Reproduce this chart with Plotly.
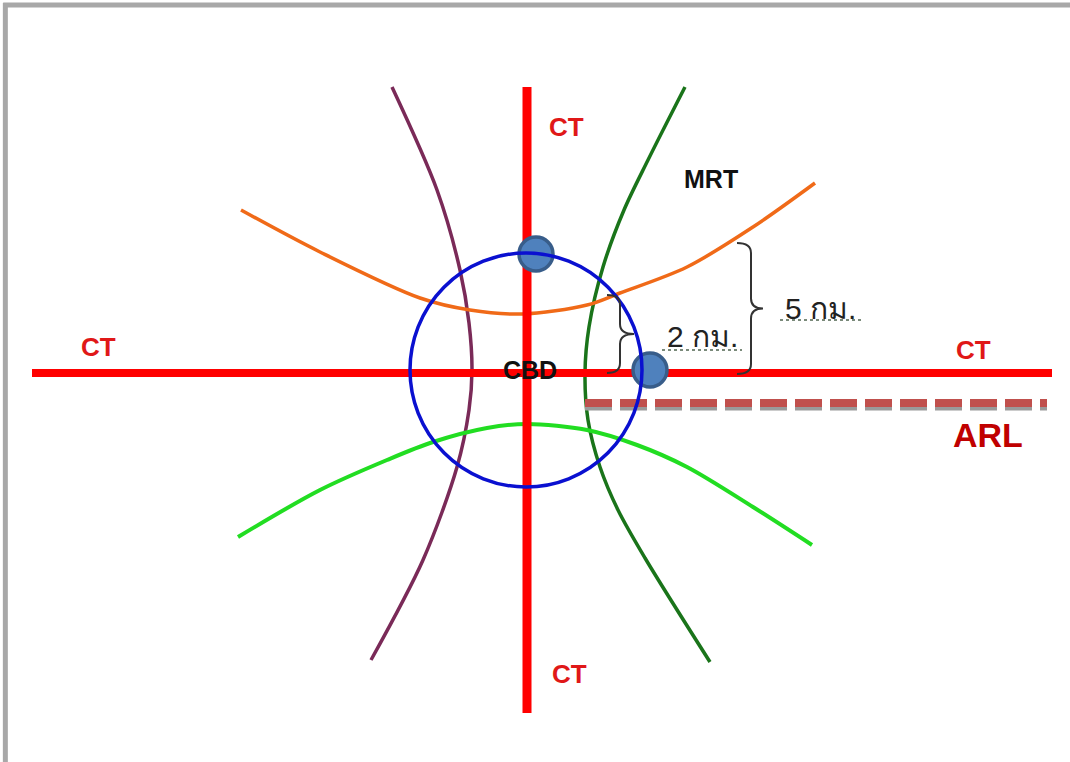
import plotly.graph_objects as go

# ---- data (pixel-space coordinates) ----
orange_x = [241, 320, 420, 470, 522, 587, 620, 687, 753, 815]
orange_y = [210, 252, 298, 310, 314, 305, 293, 267, 227, 183]

lgreen_x = [238, 320, 387, 433, 487, 527, 587, 637, 687, 753, 812]
lgreen_y = [537, 490, 460, 442, 428, 424, 430, 445, 467, 507, 545]

purple_x = [392, 437, 460, 469, 472, 469, 457, 423, 371]
purple_y = [87, 190, 270, 323, 370, 410, 467, 560, 660]

dgreen_x = [685, 648, 624, 603, 589, 585, 588, 600, 618, 645, 710]
dgreen_y = [87, 160, 210, 267, 327, 373, 420, 467, 510, 558, 662]

ct_h_x = [32, 1052]
ct_h_y = [373, 373]
ct_v_x = [527, 527]
ct_v_y = [87, 713]

arl_x = [585, 1047]
arl_y = [403, 403]

cbd_center = (526, 370)
cbd_radius = (116, 117)

station_x = [536, 650]
station_y = [254, 370]

# braces: (x_tip_ends, x_stem, x_point, y_top, y_bottom)
braces = [(607, 620, 634, 295, 373), (737, 751, 763, 243, 374)]

labels = ["CT", "CT", "CT", "CT", "MRT", "CBD", "ARL", "2 กม.", "5 กม."]
label_x = [566, 98, 973, 569, 711, 530, 988, 702, 820]
label_y = [127, 347, 350, 674, 179, 370, 435, 336, 308]

underline_x = [(662, 742), (780, 862)]
underline_y = [350, 320]

# ---- figure ----
fig = go.Figure()

def line(xs, ys, color, width, dash=None, shape="spline"):
    fig.add_trace(go.Scatter(x=xs, y=ys, mode="lines",
                             line=dict(color=color, width=width, dash=dash, shape=shape, smoothing=0.9),
                             hoverinfo="skip", showlegend=False))

line(purple_x, purple_y, "#7a2a58", 3.5)
line(dgreen_x, dgreen_y, "#1a741a", 3.5)
line(orange_x, orange_y, "#f06a18", 3.5)
line(lgreen_x, lgreen_y, "#22dd22", 4)

# ARL dashed line with grey shadow
line(arl_x, [v + 5 for v in arl_y], "#9a9a9a", 5, dash="27px,8px", shape="linear")
line(arl_x, arl_y, "#c0504d", 8, dash="27px,8px", shape="linear")

# CT lines
line(ct_h_x, ct_h_y, "#ff0000", 8, shape="linear")
line(ct_v_x, ct_v_y, "#ff0000", 9, shape="linear")

shapes = []
# CBD circle
cx, cy = cbd_center
rx, ry = cbd_radius
shapes.append(dict(type="circle", xref="x", yref="y", x0=cx - rx, x1=cx + rx,
                   y0=cy - ry, y1=cy + ry, line=dict(color="#0a10d0", width=3.5), layer="above"))

# braces
for xe, xs, xp, yt, yb in braces:
    ym = (yt + yb) / 2
    c = 10
    p = (f"M {xe},{yt} Q {xs},{yt} {xs},{yt + c} L {xs},{ym - c} Q {xs},{ym} {xp},{ym} "
         f"Q {xs},{ym} {xs},{ym + c} L {xs},{yb - c} Q {xs},{yb} {xe},{yb}")
    shapes.append(dict(type="path", path=p, xref="x", yref="y",
                       line=dict(color="#333333", width=2)))

# dotted underlines
for (x0, x1), y in zip(underline_x, underline_y):
    shapes.append(dict(type="line", xref="x", yref="y", x0=x0, x1=x1, y0=y, y1=y,
                       line=dict(color="#7a8a7a", width=2, dash="dot")))

# frame (grey border top & left)
shapes.append(dict(type="line", xref="paper", yref="paper", x0=0.003, x1=1, y0=0.9935, y1=0.9935,
                   line=dict(color="#a8a8a8", width=5)))
shapes.append(dict(type="line", xref="paper", yref="paper", x0=0.005, x1=0.005, y0=0, y1=0.996,
                   line=dict(color="#a8a8a8", width=5)))

fig.add_trace(go.Scatter(x=station_x, y=station_y, mode="markers",
                         marker=dict(size=34, color="#4f81bd", line=dict(color="#385d8a", width=3.5)),
                         hoverinfo="skip", showlegend=False))

font_family = "Liberation Sans, Arial, Noto Sans, DejaVu Sans, sans-serif"
styles = {
    "CT": dict(color="#e01818", size=26, bold=True),
    "MRT": dict(color="#111111", size=25, bold=True),
    "CBD": dict(color="#111111", size=25, bold=True),
    "ARL": dict(color="#c00000", size=34, bold=True),
    "2 กม.": dict(color="#222222", size=30, bold=False),
    "5 กม.": dict(color="#222222", size=30, bold=False),
}
annotations = []
for t, x, y in zip(labels, label_x, label_y):
    s = styles[t]
    txt = f"<b>{t}</b>" if s["bold"] else t
    annotations.append(dict(x=x, y=y, xref="x", yref="y", text=txt, showarrow=False,
                            xanchor="center", yanchor="middle",
                            font=dict(family=font_family, size=s["size"], color=s["color"])))

fig.update_layout(
    width=1070, height=762,
    margin=dict(l=0, r=0, t=0, b=0),
    paper_bgcolor="white", plot_bgcolor="white",
    xaxis=dict(range=[0, 1070], visible=False, fixedrange=True),
    yaxis=dict(range=[762, 0], visible=False, fixedrange=True),
    shapes=shapes, annotations=annotations,
)

fig.write_html("out.html", config={"displayModeBar": False, "staticPlot": True},
               post_script="document.body.style.margin='0';document.body.style.overflow='hidden';")
